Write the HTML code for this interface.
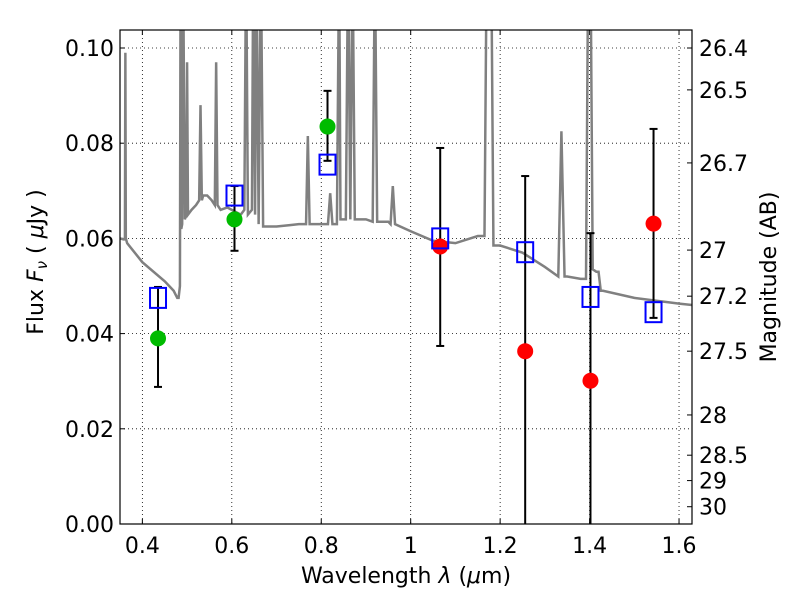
<!DOCTYPE html>
<html><head><meta charset="utf-8"><style>
body{margin:0;background:#fff;}
text{font-family:"DejaVu Sans","Liberation Sans",sans-serif;}
</style></head><body>
<svg id="c" width="800" height="600" xmlns="http://www.w3.org/2000/svg"></svg>
<script>
const specLam=[0.35,0.358,0.361,0.362,0.363,0.366,0.40,0.45,0.47,0.478,0.481,0.484,0.4855,0.487,0.489,0.491,0.495,0.498,0.50,0.502,0.51,0.52,0.527,0.530,0.533,0.536,0.545,0.555,0.562,0.565,0.568,0.575,0.59,0.60,0.62,0.628,0.632,0.636,0.645,0.648,0.652,0.655,0.66,0.665,0.67,0.70,0.73,0.75,0.766,0.770,0.774,0.80,0.815,0.82,0.825,0.835,0.84,0.843,0.846,0.855,0.86,0.865,0.87,0.875,0.88,0.90,0.915,0.92,0.925,0.95,0.955,0.96,0.965,1.0,1.05,1.1,1.15,1.165,1.17,1.18,1.185,1.2,1.25,1.3,1.33,1.337,1.344,1.35,1.38,1.392,1.397,1.402,1.407,1.415,1.42,1.425,1.43,1.5,1.6,1.63];
const specF=[0.060,0.0598,0.0598,0.099,0.060,0.059,0.055,0.051,0.049,0.0475,0.0475,0.050,0.12,0.062,0.063,0.12,0.064,0.065,0.097,0.065,0.066,0.067,0.068,0.088,0.068,0.069,0.069,0.068,0.067,0.097,0.067,0.066,0.0665,0.066,0.065,0.066,0.12,0.065,0.066,0.12,0.065,0.12,0.063,0.12,0.0625,0.0625,0.0628,0.063,0.063,0.0815,0.063,0.063,0.063,0.0695,0.063,0.063,0.12,0.064,0.064,0.064,0.12,0.064,0.12,0.064,0.064,0.064,0.0635,0.12,0.0635,0.0635,0.063,0.071,0.063,0.0615,0.0595,0.059,0.0605,0.0605,0.12,0.12,0.0585,0.0585,0.057,0.054,0.052,0.0825,0.052,0.052,0.0515,0.0515,0.12,0.12,0.0535,0.053,0.053,0.049,0.049,0.0475,0.0463,0.046];
const filtLam=[0.435,0.606,0.814,1.066,1.256,1.402,1.543];
const modelF=[0.0475,0.069,0.0755,0.060,0.0571,0.0477,0.0445];
const obsF=[0.039,0.064,0.0835,0.0583,0.0363,0.0301,0.0631];
const errLo=[0.0288,0.0574,0.0763,0.0374,-0.01,-0.01,0.0433];
const errHi=[0.0498,0.071,0.091,0.079,0.0731,0.0611,0.083];
const obsColor=['#00bb00','#00bb00','#00bb00','#ff0000','#ff0000','#ff0000','#ff0000'];
const xTicks=[0.4,0.6,0.8,1,1.2,1.4,1.6];
const xTickLabels=['0.4','0.6','0.8','1','1.2','1.4','1.6'];
const yTicks=[0,0.02,0.04,0.06,0.08,0.10];
const yTickLabels=['0.00','0.02','0.04','0.06','0.08','0.10'];
const magTicks=[26.4,26.5,26.7,27,27.2,27.5,28,28.5,29,30];

const L=120,R=692,T=30,B=524;
const x=v=>L+(v-0.35)*(R-L)/(1.629-0.35);
const y=v=>B-(v)*(B-48)/0.1;
const NS='http://www.w3.org/2000/svg';
const svg=document.getElementById('c');
function mk(t,a,p){const e=document.createElementNS(NS,t);for(const k in a)e.setAttribute(k,a[k]);(p||svg).appendChild(e);return e;}
const defs=mk('defs',{});const cp=mk('clipPath',{id:'pc'},defs);mk('rect',{x:L,y:T,width:R-L,height:B-T},cp);
xTicks.forEach((t,i)=>{
 const g=mk('line',{x1:x(t),x2:x(t),y1:T,y2:B,stroke:'#000','stroke-width':0.8,'stroke-dasharray':'1,3'});
 
 mk('line',{x1:x(t),x2:x(t),y1:B,y2:B-5,stroke:'#000'});mk('line',{x1:x(t),x2:x(t),y1:T,y2:T+5,stroke:'#000'});
 const tx=mk('text',{x:x(t),y:B+29,'font-size':22,'text-anchor':'middle'});tx.textContent=xTickLabels[i];
 
});
yTicks.forEach((t,i)=>{
 const g=mk('line',{x1:L,x2:R,y1:y(t),y2:y(t),stroke:'#000','stroke-width':0.8,'stroke-dasharray':'1,3'});
 
 mk('line',{x1:L,x2:L+5,y1:y(t),y2:y(t),stroke:'#000'});
 const tx=mk('text',{x:L-6,y:y(t)+8,'font-size':22,'text-anchor':'end'});tx.textContent=yTickLabels[i];
 
});
magTicks.forEach(m=>{
 const f=Math.pow(10,(23.9-m)/2.5);const yy=y(f);
 mk('line',{x1:R,x2:R-5,y1:yy,y2:yy,stroke:'#000'});
 const tx=mk('text',{x:R+7,y:yy+8,'font-size':22});tx.textContent=String(m);
 
});
const sp=mk('polyline',{points:specLam.map((l,i)=>x(l)+','+y(specF[i])).join(' '),fill:'none',stroke:'#808080','stroke-width':2.5,'clip-path':'url(#pc)'});

filtLam.forEach((l,i)=>{
 const g=mk('g',{'clip-path':'url(#pc)'});
 
 mk('line',{x1:x(l),x2:x(l),y1:y(errLo[i]),y2:y(errHi[i]),stroke:'#000','stroke-width':2},g);
 mk('line',{x1:x(l)-4,x2:x(l)+4,y1:y(errHi[i]),y2:y(errHi[i]),stroke:'#000','stroke-width':2},g);
 mk('line',{x1:x(l)-4,x2:x(l)+4,y1:y(errLo[i]),y2:y(errLo[i]),stroke:'#000','stroke-width':2},g);
});
filtLam.forEach((l,i)=>{
 const c=mk('circle',{cx:x(l),cy:y(obsF[i]),r:8,fill:obsColor[i]});
 
});
filtLam.forEach((l,i)=>{
 const s=mk('rect',{x:x(l)-8,y:y(modelF[i])-10,width:16,height:20,fill:'none',stroke:'#0000ff','stroke-width':2});
 
});
const fr=mk('rect',{x:L,y:T,width:R-L,height:B-T,fill:'none',stroke:'#000','stroke-width':1.2});

let t=mk('text',{x:(L+R)/2,y:583,'font-size':22,'text-anchor':'middle'});t.innerHTML='Wavelength  <tspan font-style="italic">λ</tspan> (<tspan font-style="italic">μ</tspan>m)';

t=mk('text',{x:0,y:0,'font-size':22,'text-anchor':'middle',transform:'translate(43,262) rotate(-90)'});t.innerHTML='Flux  <tspan font-style="italic">F</tspan><tspan font-style="italic" font-size="15" dy="4">ν</tspan><tspan dy="-4">  ( </tspan><tspan font-style="italic">μ</tspan>Jy )';

t=mk('text',{x:0,y:0,'font-size':22,'text-anchor':'middle',transform:'translate(776,277) rotate(-90)'});t.textContent='Magnitude (AB)';

</script>
</body></html>
